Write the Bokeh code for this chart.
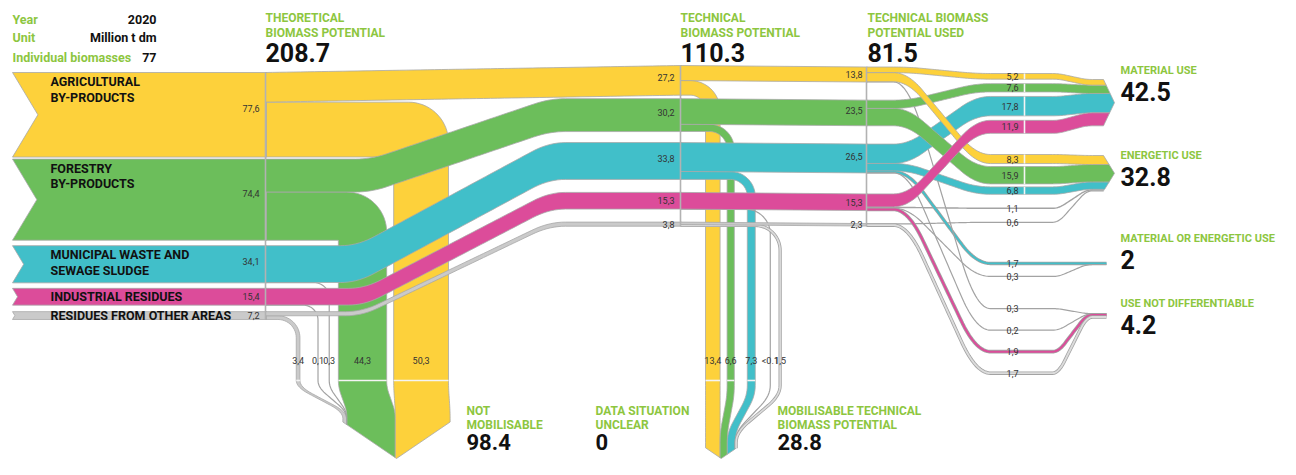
import numpy as np
from bokeh.plotting import figure
from bokeh.models import Range1d
from bokeh.core.properties import value
from bokeh.embed import file_html
from bokeh.resources import INLINE

# ---------------- data (million t dm, 2020, average values) ----------------
info_keys = ["Year", "Unit", "Individual biomasses"]
info_values = ["2020", "Million t dm", "77"]

source_labels = [["AGRICULTURAL", "BY-PRODUCTS"],
                 ["FORESTRY", "BY-PRODUCTS"],
                 ["MUNICIPAL WASTE AND", "SEWAGE SLUDGE"],
                 ["INDUSTRIAL RESIDUES"],
                 ["RESIDUES FROM OTHER AREAS"]]
theoretical = [77.6, 74.4, 34.1, 15.4, 7.2]
technical = [27.2, 30.2, 33.8, 15.3, 3.8]
not_mobilisable = [50.3, 44.3, 0.3, 0.1, 3.4]
technical_used = [13.8, 23.5, 26.5, 15.3, 2.3]
mobilisable = [13.4, 6.6, 7.3, 0.05, 1.5]
mobilisable_text = ["13,4", "6,6", "7,3", "<0.1", "1,5"]

stage_titles = [["THEORETICAL", "BIOMASS POTENTIAL"],
                ["TECHNICAL", "BIOMASS POTENTIAL"],
                ["TECHNICAL BIOMASS", "POTENTIAL USED"]]
stage_totals = ["208.7", "110.3", "81.5"]
bottom_titles = [["NOT", "MOBILISABLE"], ["DATA SITUATION", "UNCLEAR"],
                 ["MOBILISABLE TECHNICAL", "BIOMASS POTENTIAL"]]
bottom_totals = ["98.4", "0", "28.8"]

use_targets = ["MATERIAL USE", "ENERGETIC USE", "MATERIAL OR ENERGETIC USE", "USE NOT DIFFERENTIABLE"]
use_totals = ["42.5", "32.8", "2", "4.2"]
use_source = [0, 1, 2, 3, 0, 1, 2, 3, 4, 2, 3, 0, 2, 3, 4]
use_target = [0, 0, 0, 0, 1, 1, 1, 1, 1, 2, 2, 3, 3, 3, 3]
use_value = [5.2, 7.6, 17.8, 11.9, 8.3, 15.9, 6.8, 1.1, 0.6, 1.7, 0.3, 0.3, 0.2, 1.9, 1.7]

# ---------------- layout / style ----------------
K = 1.09                     # px per million t
COL = ["#FDD13B", "#6CBE5B", "#41BFC9", "#DC4C9A", "#CACACA"]
EDGE = "#A8A8A8"
GREY_LINE = "#A3A3A3"
LIME = "#8DC63F"
FONT = value("Roboto")
X0, XA, XB, XC, XD, XE = 12, 265, 680, 866, 1024, 1103
A_TOP, A_GAP = 72, [0, 2, 5.5, 5.5, 6.5]
B_TOP, B_GAP = 65, [0, 3.5, 11, 13, 13]
C_SHIFT = 1.5
AB_SPAN = [(XA, XB, 0.0), (355, 565, 0.15), (340, 565, 0.15), (348, 565, 0.15), (345, 565, 0.15)]
NM_RIGHT, NM_GAP, NM_R = 448, [7, 9, 11, 18], [40, 40, 15, 15, 22]
NM_TIP, NM_EASE = (396, 458), (380, 418)
MOB_LEFT, MOB_GAP, MOB_R = 705, [7, 13, 15, 9], [30, 25, 25, 25, 25]
MOB_EASE, MOB_TIPY = (385, 442), 458
V_SLOPE = 0.68
CD_SPAN, DE_SPAN = (893, 990), (1052, 1092)
DG_TOP, DG_GAP, DL_SP = [73, 154, 262, 308], [4.5, 3, 0, 0], [0, 14, 13, 21.5]
T_TOP = [79, 155, 262, 313]
THIN = 2.5
TIP = 11


def fmt(v):
    return f"{v:.1f}".replace(".", ",")


def ease(t, c):
    t = np.clip(np.asarray(t, dtype=float), 0, 1)
    if c <= 0:
        return t
    v = 1.0 / (1.0 - c)
    return np.where(t < c, v * t * t / (2 * c),
                    np.where(t > 1 - c, 1 - v * (1 - t) ** 2 / (2 * c), v * (c / 2 + t - c)))


def stack(top, vals, gaps):
    out, y = [], top
    for v, g in zip(vals, gaps):
        y += g
        out.append(y)
        y += v * K
    return out


a_top = stack(A_TOP, theoretical, A_GAP)
b_top = stack(B_TOP, technical, B_GAP)
c_top = [t + C_SHIFT for t in b_top]

p = figure(width=1280, height=459, x_range=Range1d(0, 1280), y_range=Range1d(459, 0),
           output_backend="svg", toolbar_location=None, min_border=0,
           x_axis_type=None, y_axis_type=None)
p.grid.visible = False
p.outline_line_color = None
p.background_fill_color = "white"
p.border_fill_color = "white"


def band(xs, ys, color):
    p.patch(list(xs), list(ys), fill_color=color, line_color=EDGE, line_width=0.8)


def thin(xs, ys, v, color):
    w = v * K
    if v < 1.5:
        p.line(list(xs), list(ys), line_color=GREY_LINE, line_width=max(w, 1.0) + 0.2, line_join="round")
    else:
        p.line(list(xs), list(ys), line_color=GREY_LINE, line_width=w + 1.6, line_join="round")
        p.line(list(xs), list(ys), line_color=color if color != COL[4] else "#DCDCDC",
               line_width=w, line_join="round")


def vbot(x, tipx, tipy):
    return tipy - V_SLOPE * abs(x - tipx)


def down_poly(x_start, y_t, w, x_l, R, ez, s_l, tipx, tipy):
    x_r = x_l + w
    R = min(R, x_r - x_start)
    cx, cy = x_r - R, y_t + R
    th = np.linspace(-np.pi / 2, 0, 18)
    ox = [x_start] + list(cx + R * np.cos(th))
    oy = [y_t] + list(cy + R * np.sin(th))
    ys = np.linspace(ez[0], ez[1], 24)
    e = ease((ys - ez[0]) / (ez[1] - ez[0]), 0.35)
    s_r = s_l + w
    ox += list(x_r + (s_r - x_r) * e)
    oy += list(ys)
    ox.append(s_r); oy.append(vbot(s_r, tipx, tipy))
    if s_l < tipx < s_r:
        ox.append(tipx); oy.append(tipy)
    ox.append(s_l); oy.append(vbot(s_l, tipx, tipy))
    ox += list((x_l + (s_l - x_l) * e)[::-1])
    oy += list(ys[::-1])
    y_b = y_t + w
    Ri = R - w
    if Ri > 0.5:
        th2 = np.linspace(0, -np.pi / 2, 14)
        ox += list(cx + Ri * np.cos(th2)); oy += list(cy + Ri * np.sin(th2))
    else:
        ox.append(x_l); oy.append(y_b)
    ox.append(x_start); oy.append(y_b)
    return ox, oy


def down_line(x_start, y_c, x_c, R, ez, s_c, tipx, tipy):
    R = min(R, x_c - x_start)
    cx, cy = x_c - R, y_c + R
    th = np.linspace(-np.pi / 2, 0, 18)
    ox = [x_start] + list(cx + R * np.cos(th))
    oy = [y_c] + list(cy + R * np.sin(th))
    ys = np.linspace(ez[0], ez[1], 24)
    e = ease((ys - ez[0]) / (ez[1] - ez[0]), 0.35)
    ox += list(x_c + (s_c - x_c) * e); oy += list(ys)
    ox.append(s_c); oy.append(vbot(s_c, tipx, tipy))
    return ox, oy


# ---------- not mobilisable columns (from theoretical) ----------
nm_left, right = [], NM_RIGHT
for i, v in enumerate(not_mobilisable):
    if i > 0:
        right -= NM_GAP[i - 1]
    nm_left.append(right - v * K)
    right -= v * K
nm_W = sum(not_mobilisable) * K
nm_stack, cur = [0] * 5, NM_TIP[0] - nm_W / 2
for i in [4, 3, 2, 1, 0]:
    nm_stack[i] = cur
    cur += not_mobilisable[i] * K

for i in [4, 3, 2, 1, 0]:
    w = not_mobilisable[i] * K
    y_t = a_top[i] + technical[i] * K
    if w >= THIN:
        band(*down_poly(XA, y_t, w, nm_left[i], NM_R[i], NM_EASE, nm_stack[i], *NM_TIP), COL[i])
    else:
        xs, ys = down_line(XA, y_t + w / 2, nm_left[i] + w / 2, NM_R[i], NM_EASE,
                           nm_stack[i] + w / 2, *NM_TIP)
        thin(xs, ys, not_mobilisable[i], COL[i])

# ---------- source bands (theoretical) ----------
for i, v in enumerate(theoretical):
    w = v * K
    top = a_top[i]
    d = 0.6 * w / 2
    band([X0, XA + 1, XA + 1, X0, X0 + d], [top, top, top + w, top + w, top + w / 2], COL[i])

# ---------- theoretical -> technical ----------
for i in range(5):
    s0, s1, c = AB_SPAN[i]
    xs = np.unique(np.concatenate([[XA], np.linspace(s0, s1, 60), [XB + 1]]))
    top = a_top[i] + (b_top[i] - a_top[i]) * ease((xs - s0) / (s1 - s0), c)
    w = technical[i] * K
    band(np.concatenate([xs, xs[::-1]]), np.concatenate([top, (top + w)[::-1]]), COL[i])

# ---------- mobilisable columns (from technical) ----------
mob_left, x = [], MOB_LEFT
for i, v in enumerate(mobilisable):
    if i > 0:
        x += MOB_GAP[i - 1]
    mob_left.append(x)
    x += v * K
mob_W = sum(mobilisable) * K
mob_tipx = MOB_LEFT + mob_W / 2
mob_stack, cur = [], MOB_LEFT
for v in mobilisable:
    mob_stack.append(cur)
    cur += v * K

for i in range(5):
    w = mobilisable[i] * K
    y_t = b_top[i] + technical_used[i] * K
    if w >= THIN:
        band(*down_poly(XB, y_t, w, mob_left[i], MOB_R[i], MOB_EASE, mob_stack[i], mob_tipx, MOB_TIPY), COL[i])
    else:
        xs, ys = down_line(XB, y_t + w / 2, mob_left[i] + w / 2, MOB_R[i], MOB_EASE,
                           mob_stack[i] + w / 2, mob_tipx, MOB_TIPY)
        thin(xs, ys, mobilisable[i], COL[i])

# ---------- technical -> used ----------
for i in range(5):
    w = technical_used[i] * K
    xs = np.array([XB, XC + 1])
    top = np.array([b_top[i], c_top[i]])
    band(np.concatenate([xs, xs[::-1]]), np.concatenate([top, (top + w)[::-1]]), COL[i])

# ---------- used -> final uses ----------
n = len(use_value)
d_pos = [0.0] * n
for t in range(4):
    cursor, prev = DG_TOP[t], None
    for j in range(n):
        if use_target[j] != t:
            continue
        w = use_value[j] * K
        if w >= THIN:
            if prev is not None:
                cursor += DG_GAP[t]
            d_pos[j] = cursor
            cursor += w
        else:
            cc = cursor + w / 2 if prev is None else cursor + DL_SP[t]
            d_pos[j] = cc
            cursor = cc
        prev = j
e_top = [0.0] * n
t_w = [0.0] * 4
for t in range(4):
    cursor = T_TOP[t]
    for j in range(n):
        if use_target[j] == t:
            e_top[j] = cursor
            cursor += use_value[j] * K
    t_w[t] = cursor - T_TOP[t]
c_cur = list(c_top)
c_pos = [0.0] * n
for j in range(n):
    c_pos[j] = c_cur[use_source[j]]
    c_cur[use_source[j]] += use_value[j] * K


def arrow_x(t, y):
    half = t_w[t] / 2
    ctr = T_TOP[t] + half
    return XE + TIP * max(0.0, 1 - abs(y - ctr) / half)


XS = np.unique(np.concatenate([[XC], np.linspace(CD_SPAN[0], CD_SPAN[1], 60),
                               np.linspace(DE_SPAN[0], DE_SPAN[1], 30), [XD, XE]]))


def ce_curve(yc, yd, ye):
    return (yc + (yd - yc) * ease((XS - CD_SPAN[0]) / (CD_SPAN[1] - CD_SPAN[0]), 0.3)
            + (ye - yd) * ease((XS - DE_SPAN[0]) / (DE_SPAN[1] - DE_SPAN[0]), 0.3))


for j in range(n):
    w = use_value[j] * K
    if w >= THIN:
        continue
    t = use_target[j]
    ys = ce_curve(c_pos[j] + w / 2, d_pos[j], e_top[j] + w / 2)
    xend = arrow_x(t, ys[-1]) if t < 2 else XE + 3
    thin(list(XS) + [xend], list(ys) + [ys[-1]], use_value[j], COL[use_source[j]])

for src in [2, 1, 0, 3, 4]:
    for j in range(n):
        if use_source[j] != src:
            continue
        w = use_value[j] * K
        if w < THIN:
            continue
        t = use_target[j]
        top = ce_curve(c_pos[j], d_pos[j], e_top[j])
        y0, y1 = top[-1], top[-1] + w
        rx = [arrow_x(t, y0)]
        ry = [y0]
        ctr = T_TOP[t] + t_w[t] / 2
        if y0 < ctr < y1:
            rx.append(XE + TIP); ry.append(ctr)
        rx.append(arrow_x(t, y1)); ry.append(y1)
        band(list(XS) + rx + list(XS[::-1]), list(top) + ry + list((top + w)[::-1]), COL[src])

# ---------- dividers ----------
a_bot = a_top[4] + theoretical[4] * K
b_bot = b_top[4] + technical[4] * K
c_bot = c_top[4] + technical_used[4] * K
p.segment(x0=[XA, XB, XC], y0=[a_top[0], b_top[0], c_top[0]],
          x1=[XA, XB, XC], y1=[a_bot, b_bot, c_bot], line_color="#B2B2B2", line_width=1.6)
dx0, dy0, dy1 = [], [], []
for j in range(n):
    w = use_value[j] * K
    if w >= THIN:
        dx0.append(XD); dy0.append(d_pos[j]); dy1.append(d_pos[j] + w)
p.segment(x0=dx0, y0=dy0, x1=dx0, y1=dy1, line_color="#F4F4F4", line_width=1.6)
sx0, sx1 = [], []
for i in range(5):
    if not_mobilisable[i] * K >= THIN:
        sx0.append(nm_left[i]); sx1.append(nm_left[i] + not_mobilisable[i] * K)
    if mobilisable[i] * K >= THIN:
        sx0.append(mob_left[i]); sx1.append(mob_left[i] + mobilisable[i] * K)
p.segment(x0=sx0, y0=[380] * len(sx0), x1=sx1, y1=[380] * len(sx0), line_color="#F4F4F4", line_width=1.6)


# ---------- texts ----------
def txt(x, y, s, size, color="#111111", bold=True, align="left", baseline="middle"):
    p.text(x=list(x), y=list(y), text=list(s), text_font=FONT, text_font_size=f"{size}px",
           text_color=color, text_font_style="bold" if bold else "normal",
           text_align=align, text_baseline=baseline)


# header
txt([X0] * 3, [18.5, 37, 56.5], info_keys, 12.5, LIME)
txt([156] * 3, [18.5, 37, 56.5], info_values, 12.5, "#111111", align="right")

# stage titles
for k, xx in enumerate([XA, XB, XC + 1]):
    txt([xx, xx], [17, 32], stage_titles[k], 12, LIME)
    txt([xx], [51.5], [stage_totals[k]], 25)

# source names
for i, lines in enumerate(source_labels):
    w = theoretical[i] * K
    if len(lines) == 1:
        ys = [a_top[i] + w / 2]
    else:
        ys = [a_top[i] + 9, a_top[i] + 24.5]
    txt([50] * len(lines), ys, lines, 12.5, "#111111")


# value labels
def lab_y(top, w):
    return top + (w / 2 if w < 20 else 0.42 * w)


txt([XA - 6] * 5, [lab_y(a_top[i], theoretical[i] * K) for i in range(5)],
    [fmt(v) for v in theoretical], 9, "#333333", bold=False, align="right")
txt([XB - 6] * 5, [lab_y(b_top[i], technical[i] * K) for i in range(5)],
    [fmt(v) for v in technical], 9, "#333333", bold=False, align="right")
txt([XC - 4] * 5, [lab_y(c_top[i], technical_used[i] * K) for i in range(5)],
    [fmt(v) for v in technical_used], 9, "#333333", bold=False, align="right")
txt([nm_left[i] + not_mobilisable[i] * K / 2 for i in range(5)], [360] * 5,
    [fmt(v) for v in not_mobilisable], 9, "#333333", bold=False, align="center")
txt([mob_left[i] + mobilisable[i] * K / 2 for i in range(5)], [360] * 5,
    mobilisable_text, 9, "#333333", bold=False, align="center")
ly = [d_pos[j] + use_value[j] * K / 2 if use_value[j] * K >= THIN else d_pos[j] for j in range(n)]
txt([XD - 6] * n, ly, [fmt(v) for v in use_value], 9, "#333333", bold=False, align="right")

# final targets
TT_Y = [70, 155, 238, 303]
for t in range(4):
    txt([1120], [TT_Y[t]], [use_targets[t]], 11, LIME)
    txt([1120], [TT_Y[t] + 21], [use_totals[t]], 25)

# bottom titles
for k, xx in enumerate([466, 595, 777]):
    txt([xx, xx], [410, 424], bottom_titles[k], 12, LIME)
    txt([xx], [441], [bottom_totals[k]], 22)

open("out.html", "w").write(file_html(p, INLINE))
